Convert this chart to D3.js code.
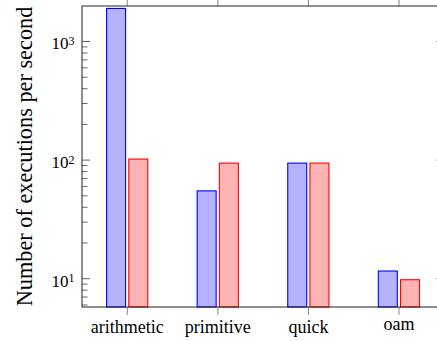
<!DOCTYPE html>
<html>
<head>
<meta charset="utf-8">
<script src="https://cdn.jsdelivr.net/npm/d3@7"></script>
<style>
  html, body { margin: 0; padding: 0; background: #fff; }
  svg { display: block; }
</style>
</head>
<body>
<svg id="chart" width="437" height="341" font-family="'Liberation Serif', 'Times New Roman', Times, serif"></svg>
<script>
// ---- data ----
const categories = ["arithmetic", "primitive", "quick", "oam"];
const seriesA = [1900, 55, 94.3, 11.6];   // blue
const seriesB = [102, 94.3, 94.3, 9.8];   // red
const yTickExponents = [1, 2, 3];
const yLabel = "Number of executions per second";

// ---- layout ----
const plotL = 82, plotR = 444.3, plotT = 6, plotB = 307;
const yDomain = [5.77, 1992];
const FONT = "'Liberation Serif', 'Times New Roman', Times, serif";

const svg = d3.select("#chart");

const x = d3.scalePoint().domain(categories).range([plotL, plotR]).padding(0.5);
const y = d3.scaleLog().domain(yDomain).range([plotB, plotT]);

const barW = 19, offA = -11.2, offB = 11.0;
const series = [
  { values: seriesA, off: offA, fill: "#b3b3ff", stroke: "#0000ff" },
  { values: seriesB, off: offB, fill: "#ffb3b3", stroke: "#ff0000" }
];

// bars
series.forEach(s => {
  svg.append("g").selectAll("rect")
    .data(categories.map((c, i) => ({ c, v: s.values[i] })))
    .join("rect")
    .attr("x", d => x(d.c) + s.off - barW / 2)
    .attr("width", barW)
    .attr("y", d => y(d.v))
    .attr("height", d => plotB - y(d.v))
    .attr("fill", s.fill)
    .attr("stroke", s.stroke)
    .attr("stroke-width", 1.1);
});

// y ticks (major + minor), both sides, pointing inward
const minorVals = [];
for (let e = 0; e <= 4; e++) {
  for (let k = 2; k <= 9; k++) {
    const v = k * Math.pow(10, e);
    if (v >= yDomain[0] && v <= yDomain[1]) minorVals.push(v);
  }
}
const majorVals = yTickExponents.map(e => Math.pow(10, e));
const tg = svg.append("g").attr("stroke", "#555").attr("stroke-width", 0.9);
minorVals.forEach(v => {
  tg.append("line").attr("x1", plotL).attr("x2", plotL + 5.5).attr("y1", y(v)).attr("y2", y(v));
  tg.append("line").attr("x1", plotR).attr("x2", plotR - 5.5).attr("y1", y(v)).attr("y2", y(v));
});
majorVals.forEach(v => {
  tg.append("line").attr("x1", plotL).attr("x2", plotL + 8).attr("y1", y(v)).attr("y2", y(v));
  tg.append("line").attr("x1", plotR).attr("x2", plotR - 8).attr("y1", y(v)).attr("y2", y(v));
});

// x ticks, outward on bottom and top
categories.forEach(c => {
  tg.append("line").attr("x1", x(c)).attr("x2", x(c)).attr("y1", plotB).attr("y2", plotB + 8).attr("stroke", "#777");
  tg.append("line").attr("x1", x(c)).attr("x2", x(c)).attr("y1", plotT).attr("y2", plotT - 8).attr("stroke", "#777");
});

// frame
svg.append("rect")
  .attr("x", plotL).attr("y", plotT)
  .attr("width", plotR - plotL).attr("height", plotB - plotT)
  .attr("fill", "none").attr("stroke", "#222").attr("stroke-width", 1);

// y tick labels
yTickExponents.forEach(e => {
  const t = svg.append("text")
    .attr("font-family", FONT)
    .attr("x", 74.5).attr("y", y(Math.pow(10, e)) + 8)
    .attr("text-anchor", "end");
  t.append("tspan").attr("font-size", 17).text("10");
  t.append("tspan").attr("font-size", 12).attr("dy", -4.5).text(String(e));
});

// x tick labels (top-aligned like TeX boxes)
categories.forEach(c => {
  const hasAsc = /[A-Zbdfhiklt0-9]/.test(c);
  svg.append("text")
    .attr("font-family", FONT)
    .attr("x", x(c)).attr("y", hasAsc ? 333 : 329.6)
    .attr("text-anchor", "middle")
    .attr("font-size", 18)
    .text(c);
});

// y axis label
svg.append("text")
  .attr("font-family", FONT)
  .attr("transform", `translate(32,${(plotT + plotB) / 2}) rotate(-90)`)
  .attr("text-anchor", "middle")
  .attr("font-size", 22.3)
  .text(yLabel);
</script>
</body>
</html>
